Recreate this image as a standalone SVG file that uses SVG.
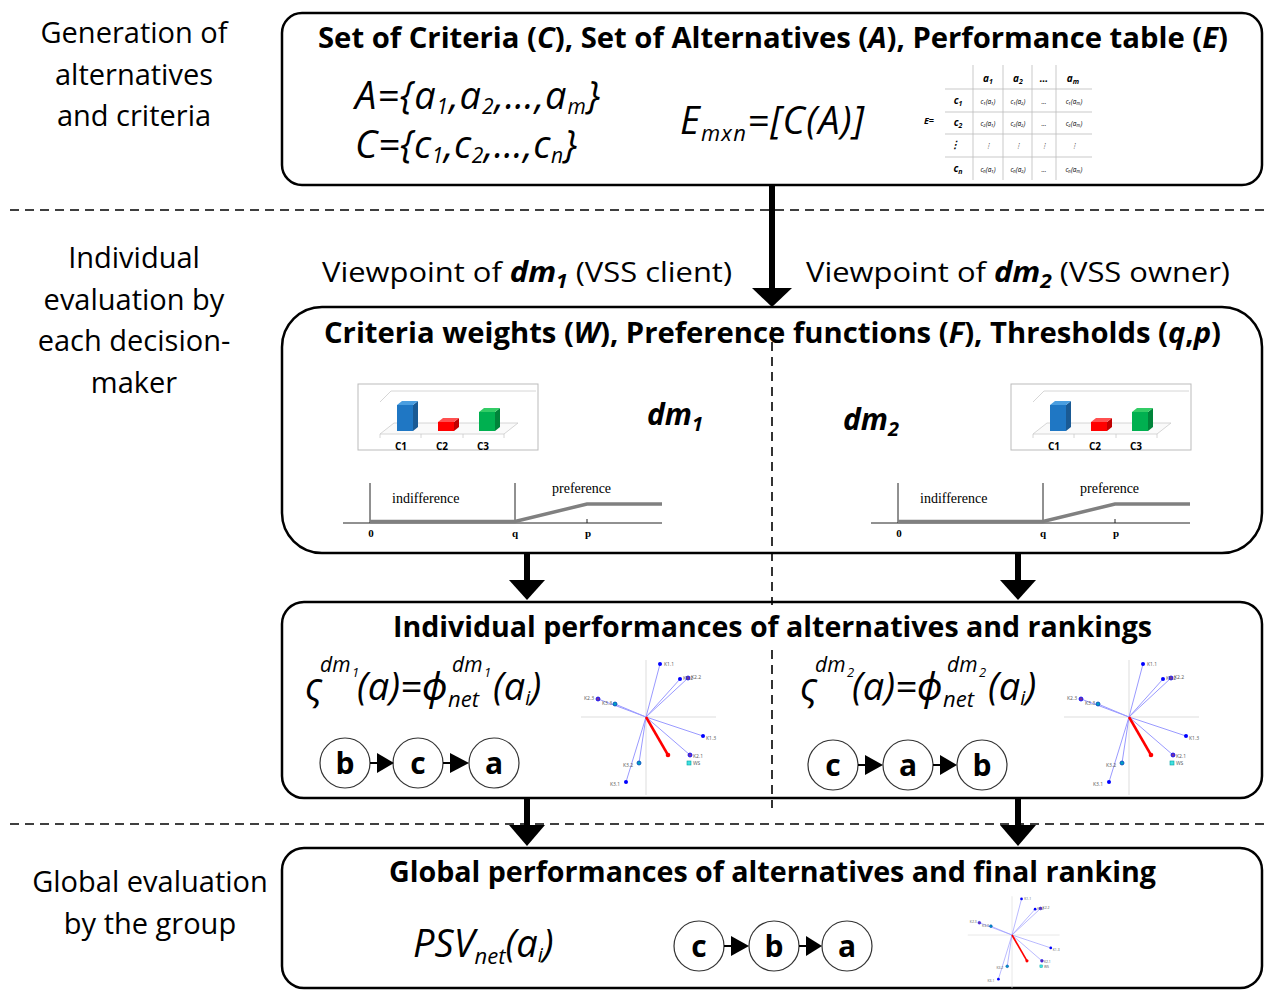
<svg xmlns="http://www.w3.org/2000/svg" width="1264" height="992" viewBox="0 0 1264 992">
  <style>
    text { font-family: "Open Sans", "Noto Sans", "DejaVu Sans", sans-serif; fill: #000; }
    .lbl { font-size: 29px; text-anchor: middle; }
    .title { font-size: 28px; font-weight: bold; }
    .math { font-style: italic; font-size: 38px; }
    .sup { font-style: italic; font-size: 22px; }
    .low { font-style: italic; font-size: 21px; }
    .sup2 { font-style: italic; font-size: 21px; }
    .sub2 { font-style: italic; font-size: 13px; }
    .box { fill: #fff; stroke: #000; stroke-width: 2.5; }
    .dash { stroke: #000; stroke-width: 1.6; stroke-dasharray: 9 6; fill: none; }
    .arrow { fill: #000; }
    .node circle { fill: #fff; stroke: #333; stroke-width: 1.2; }
    .node text { font-size: 30px; font-weight: bold; text-anchor: middle; }
    .serif { font-family: "Liberation Serif", "Times New Roman", serif; }
    .tbl text { font-family: "Open Sans", sans-serif; text-anchor: middle; }
    .grid { stroke: #bbb; stroke-width: 0.8; }
    .sc text { font-size: 5px; fill: #555; }
    .ray { stroke: #9a9aff; stroke-width: 1; }
  </style>
  <defs>
    <!-- small 3D bar chart of criteria weights -->
    <g id="bars">
      <rect x="0" y="0" width="180" height="66" fill="#fff" stroke="#bbb" stroke-width="1"/>
      <polyline points="22,18 33,7 178,7" fill="none" stroke="#ccc" stroke-width="0.8"/>
      <polygon points="22,50 146,50 160,39 36,39" fill="#fafafa" stroke="#ccc" stroke-width="0.8"/>
      <g stroke="#ccc" stroke-width="0.8">
        <line x1="22" y1="50" x2="22" y2="54"/>
        <line x1="63" y1="50" x2="63" y2="54"/>
        <line x1="105" y1="50" x2="105" y2="54"/>
        <line x1="146" y1="50" x2="146" y2="54"/>
      </g>
      <!-- blue -->
      <polygon points="55,21 60,17 60,43 55,47" fill="#1a5a94"/>
      <polygon points="39,21 44,17 60,17 55,21" fill="#4a9ee0"/>
      <rect x="39" y="21" width="16" height="26" fill="#1f77c4"/>
      <!-- red -->
      <polygon points="96,38 101,34 101,43 96,47" fill="#c00000"/>
      <polygon points="80,38 85,34 101,34 96,38" fill="#ff5050"/>
      <rect x="80" y="38" width="16" height="9" fill="#ff0000"/>
      <!-- green -->
      <polygon points="137,28 142,24 142,43 137,47" fill="#00843a"/>
      <polygon points="121,28 126,24 142,24 137,28" fill="#33cc66"/>
      <rect x="121" y="28" width="16" height="19" fill="#00b050"/>
      <g font-size="10" font-weight="bold" text-anchor="middle">
        <text x="43" y="66">C1</text>
        <text x="84" y="66">C2</text>
        <text x="125" y="66">C3</text>
      </g>
    </g>
    <!-- linear preference function with indifference and preference thresholds -->
    <g id="pref">
      <line x1="0" y1="0" x2="319" y2="0" stroke="#222" stroke-width="1"/>
      <line x1="27" y1="-40" x2="27" y2="0" stroke="#222" stroke-width="1"/>
      <line x1="172" y1="-40" x2="172" y2="0" stroke="#222" stroke-width="1"/>
      <line x1="244" y1="-4" x2="244" y2="0" stroke="#222" stroke-width="1"/>
      <polyline points="27,-1.5 172,-1.5 244,-19 319,-19" fill="none" stroke="#808080" stroke-width="3.5"/>
      <g class="serif" font-size="14">
        <text class="serif" x="49" y="-20">indifference</text>
        <text class="serif" x="209" y="-30">preference</text>
      </g>
      <g font-size="11" font-weight="bold" text-anchor="middle">
        <text class="serif" x="28" y="14">0</text>
        <text class="serif" x="172" y="14">q</text>
        <text class="serif" x="245" y="14">p</text>
      </g>
    </g>
    <!-- GAIA-like plane: criteria rays and decision axis -->
    <g id="gaia" class="sc">
      <line x1="-65" y1="0" x2="70" y2="0" stroke="#ddd" stroke-width="1"/>
      <line x1="0" y1="-57" x2="0" y2="78" stroke="#ddd" stroke-width="1"/>
      <line class="ray" x1="0" y1="0" x2="14" y2="-53"/>
      <line class="ray" x1="0" y1="0" x2="34" y2="-38"/>
      <line class="ray" x1="0" y1="0" x2="42" y2="-39"/>
      <line class="ray" x1="0" y1="0" x2="-48" y2="-18"/>
      <line class="ray" x1="0" y1="0" x2="-31" y2="-13"/>
      <line class="ray" x1="0" y1="0" x2="57" y2="19"/>
      <line class="ray" x1="0" y1="0" x2="44" y2="38"/>
      <line class="ray" x1="0" y1="0" x2="-7" y2="46"/>
      <line class="ray" x1="0" y1="0" x2="-20" y2="65"/>
      <line x1="0" y1="0" x2="22" y2="38" stroke="#ff0000" stroke-width="2.5"/>
      <circle cx="22" cy="38" r="2.3" fill="#ff0000"/>
      <circle cx="14" cy="-53" r="2" fill="#0000ff"/>
      <circle cx="34" cy="-38" r="2" fill="#0000ff"/>
      <circle cx="42" cy="-39" r="2" fill="#7030a0" stroke="#0000ff" stroke-width="0.8"/>
      <circle cx="-48" cy="-18" r="2" fill="#7030a0" stroke="#0000ff" stroke-width="0.8"/>
      <circle cx="-31" cy="-13" r="2" fill="#00a0c0" stroke="#0040c0" stroke-width="0.8"/>
      <circle cx="57" cy="19" r="2" fill="#0000ff"/>
      <circle cx="44" cy="38" r="2" fill="#7030a0" stroke="#0000ff" stroke-width="0.8"/>
      <circle cx="-7" cy="46" r="2" fill="#00a0c0" stroke="#0040c0" stroke-width="0.8"/>
      <circle cx="-20" cy="65" r="2" fill="#0000ff"/>
      <rect x="41" y="44" width="4" height="4" fill="#40e0e0" stroke="#00a0a0" stroke-width="0.6"/>
      <text x="18" y="-51">K1.1</text>
      <text x="37" y="-37">K1.2</text>
      <text x="45" y="-38">K2.2</text>
      <text x="-62" y="-17">K2.3</text>
      <text x="-44" y="-12">K3.3</text>
      <text x="60" y="23">K1.3</text>
      <text x="47" y="41">K2.1</text>
      <text x="47" y="48">WS</text>
      <text x="-23" y="50">K3.2</text>
      <text x="-36" y="69">K3.1</text>
    </g>
  </defs>

  <!-- stage labels -->
  <g id="stage-labels">
    <text class="lbl" x="134" y="43">Generation of</text>
    <text class="lbl" x="134" y="85">alternatives</text>
    <text class="lbl" x="134" y="126">and criteria</text>
    <text class="lbl" x="134" y="268">Individual</text>
    <text class="lbl" x="134" y="310">evaluation by</text>
    <text class="lbl" x="134" y="351">each decision-</text>
    <text class="lbl" x="134" y="393">maker</text>
    <text class="lbl" x="150" y="892">Global evaluation</text>
    <text class="lbl" x="150" y="934">by the group</text>
  </g>

  <!-- stage separators -->
  <g id="separators">
    <line class="dash" x1="10" y1="210" x2="1264" y2="210"/>
    <line class="dash" x1="10" y1="824" x2="1264" y2="824"/>
  </g>

  <!-- node: criteria, alternatives, performance table -->
  <g id="node-input">
    <rect class="box" x="282" y="13" width="980" height="172" rx="20"/>
    <text class="title" x="318" y="48" textLength="910" lengthAdjust="spacingAndGlyphs">Set of Criteria (<tspan font-style="italic">C</tspan>), Set of Alternatives (<tspan font-style="italic">A</tspan>), Performance table (<tspan font-style="italic">E</tspan>)</text>
    <text class="math" x="355" y="109" textLength="245" lengthAdjust="spacing">A={a<tspan class="low" dy="5">1</tspan><tspan dy="-5">,a</tspan><tspan class="low" dy="5">2</tspan><tspan dy="-5">,…,a</tspan><tspan class="low" dy="5">m</tspan><tspan dy="-5">}</tspan></text>
    <text class="math" x="355" y="158" textLength="222" lengthAdjust="spacing">C={c<tspan class="low" dy="5">1</tspan><tspan dy="-5">,c</tspan><tspan class="low" dy="5">2</tspan><tspan dy="-5">,…,c</tspan><tspan class="low" dy="5">n</tspan><tspan dy="-5">}</tspan></text>
    <text class="math" x="680" y="134" font-size="39" textLength="184" lengthAdjust="spacing">E<tspan class="sup" dy="7">mxn</tspan><tspan dy="-7">=[C(A)]</tspan></text>
    <!-- performance table -->
    <g class="tbl">
      <g class="grid">
        <line x1="973" y1="65" x2="973" y2="180"/>
        <line x1="1003" y1="65" x2="1003" y2="180"/>
        <line x1="1032" y1="65" x2="1032" y2="180"/>
        <line x1="1056" y1="65" x2="1056" y2="180"/>
        <line x1="945" y1="89" x2="1092" y2="89"/>
        <line x1="945" y1="112" x2="1092" y2="112"/>
        <line x1="945" y1="134" x2="1092" y2="134"/>
        <line x1="945" y1="157" x2="1092" y2="157"/>
      </g>
      <text x="929" y="124" font-size="9" font-weight="bold" font-style="italic">E=</text>
      <g font-size="10" font-weight="bold" font-style="italic">
        <text x="988" y="82">a<tspan font-size="7" dy="2">1</tspan></text>
        <text x="1018" y="82">a<tspan font-size="7" dy="2">2</tspan></text>
        <text x="1044" y="82">…</text>
        <text x="1073" y="82">a<tspan font-size="7" dy="2">m</tspan></text>
        <text x="958" y="104">c<tspan font-size="7" dy="2">1</tspan></text>
        <text x="958" y="126">c<tspan font-size="7" dy="2">2</tspan></text>
        <text x="955" y="148">⋮</text>
        <text x="958" y="172">c<tspan font-size="7" dy="2">n</tspan></text>
      </g>
      <g font-size="6.5" font-style="italic" fill="#333">
        <text x="988" y="104">c₁(a₁)</text>
        <text x="1018" y="104">c₁(a₂)</text>
        <text x="1044" y="104">…</text>
        <text x="1074" y="104">c₁(aₘ)</text>
        <text x="988" y="126">c₂(a₁)</text>
        <text x="1018" y="126">c₂(a₂)</text>
        <text x="1044" y="126">…</text>
        <text x="1074" y="126">c₂(aₘ)</text>
        <text x="988" y="148">⋮</text>
        <text x="1018" y="148">⋮</text>
        <text x="1044" y="148">⋮</text>
        <text x="1074" y="148">⋮</text>
        <text x="988" y="172">cₙ(a₁)</text>
        <text x="1018" y="172">cₙ(a₂)</text>
        <text x="1044" y="172">…</text>
        <text x="1074" y="172">cₙ(aₘ)</text>
      </g>
    </g>
  </g>

  <!-- viewpoints -->
  <g id="viewpoints">
    <text x="322" y="282" font-size="28" textLength="410" lengthAdjust="spacingAndGlyphs">Viewpoint of <tspan font-weight="bold" font-style="italic">dm</tspan><tspan font-weight="bold" font-style="italic" font-size="19" dy="6">1</tspan><tspan dy="-6"> (VSS client)</tspan></text>
    <text x="806" y="282" font-size="28" textLength="424" lengthAdjust="spacingAndGlyphs">Viewpoint of <tspan font-weight="bold" font-style="italic">dm</tspan><tspan font-weight="bold" font-style="italic" font-size="19" dy="6">2</tspan><tspan dy="-6"> (VSS owner)</tspan></text>
  </g>

  <!-- node: individual preference parameters -->
  <g id="node-params">
    <rect class="box" x="282" y="307" width="980" height="246" rx="40"/>
    <text class="title" x="324" y="343" textLength="897" lengthAdjust="spacingAndGlyphs">Criteria weights (<tspan font-style="italic">W</tspan>), Preference functions (<tspan font-style="italic">F</tspan>), Thresholds (<tspan font-style="italic">q</tspan>,<tspan font-style="italic">p</tspan>)</text>
    <use href="#bars" x="358" y="384"/>
    <use href="#bars" x="1011" y="384"/>
    <text x="647" y="425" font-size="30" font-weight="bold" font-style="italic">dm<tspan font-size="20" dy="6">1</tspan></text>
    <text x="843" y="430" font-size="30" font-weight="bold" font-style="italic">dm<tspan font-size="20" dy="6">2</tspan></text>
    <use href="#pref" x="343" y="523"/>
    <use href="#pref" x="871" y="523"/>
  </g>

  <!-- node: individual performances and rankings -->
  <g id="node-individual">
    <rect class="box" x="282" y="602" width="980" height="196" rx="22"/>
    <text class="title" x="393" y="637" textLength="759" lengthAdjust="spacingAndGlyphs">Individual performances of alternatives and rankings</text>
    <!-- dm1 net flow -->
    <text class="math" x="305" y="700">ς</text>
    <text class="sup2" x="320" y="672">dm</text>
    <text class="sub2" x="352" y="677">1</text>
    <text class="math" x="357" y="700">(a)=ϕ</text>
    <text class="sup" x="448" y="707">net</text>
    <text class="sup2" x="452" y="672">dm</text>
    <text class="sub2" x="484" y="677">1</text>
    <text class="math" x="493" y="700">(a<tspan font-size="20" dy="5">i</tspan><tspan dy="-5">)</tspan></text>
    <use href="#gaia" x="646" y="717"/>
    <!-- dm2 net flow -->
    <text class="math" x="800" y="700">ς</text>
    <text class="sup2" x="815" y="672">dm</text>
    <text class="sub2" x="847" y="677">2</text>
    <text class="math" x="852" y="700">(a)=ϕ</text>
    <text class="sup" x="943" y="707">net</text>
    <text class="sup2" x="947" y="672">dm</text>
    <text class="sub2" x="979" y="677">2</text>
    <text class="math" x="988" y="700">(a<tspan font-size="20" dy="5">i</tspan><tspan dy="-5">)</tspan></text>
    <use href="#gaia" x="1129" y="717"/>
  </g>

  <!-- ranking of dm1: b > c > a -->
  <g id="rank-dm1">
    <g class="node"><circle cx="345" cy="763" r="25"/><text x="345" y="774">b</text></g>
    <g class="node"><circle cx="418" cy="763" r="25"/><text x="418" y="774">c</text></g>
    <g class="node"><circle cx="494" cy="763" r="25"/><text x="494" y="774">a</text></g>
  </g>
  <!-- ranking of dm2: c > a > b -->
  <g id="rank-dm2">
    <g class="node"><circle cx="833" cy="765" r="25"/><text x="833" y="776">c</text></g>
    <g class="node"><circle cx="908" cy="765" r="25"/><text x="908" y="776">a</text></g>
    <g class="node"><circle cx="982" cy="765" r="25"/><text x="982" y="776">b</text></g>
  </g>

  <!-- node: global evaluation -->
  <g id="node-global">
    <rect class="box" x="282" y="848" width="980" height="140" rx="22"/>
    <text class="title" x="389" y="882" textLength="767" lengthAdjust="spacingAndGlyphs">Global performances of alternatives and final ranking</text>
    <text class="math" x="413" y="957">PSV<tspan class="sup" dy="7">net</tspan><tspan dy="-7">(a</tspan><tspan font-size="20" dy="5">i</tspan><tspan dy="-5">)</tspan></text>
    <use href="#gaia" transform="translate(1012 935) scale(0.68)"/>
  </g>
  <!-- group ranking: c > b > a -->
  <g id="rank-group">
    <g class="node"><circle cx="699" cy="946" r="25"/><text x="699" y="957">c</text></g>
    <g class="node"><circle cx="774" cy="946" r="25"/><text x="774" y="957">b</text></g>
    <g class="node"><circle cx="847" cy="946" r="25"/><text x="847" y="957">a</text></g>
  </g>

  <!-- connectors -->
  <g id="connectors">
    <line class="dash" x1="772" y1="327" x2="772" y2="605" stroke-dasharray="14 8"/>
    <line class="dash" x1="772" y1="650" x2="772" y2="808" stroke-dasharray="14 8"/>
    <!-- main flow arrows -->
    <rect class="arrow" x="769" y="185" width="6" height="105"/>
    <polygon class="arrow" points="752,288 792,288 772,307"/>
    <rect class="arrow" x="524" y="553" width="6" height="29"/>
    <polygon class="arrow" points="509,580 545,580 527,600"/>
    <rect class="arrow" x="1015" y="553" width="6" height="29"/>
    <polygon class="arrow" points="1000,580 1036,580 1018,600"/>
    <rect class="arrow" x="524" y="798" width="6" height="28"/>
    <polygon class="arrow" points="509,825 545,825 527,846"/>
    <rect class="arrow" x="1015" y="798" width="6" height="28"/>
    <polygon class="arrow" points="1000,825 1036,825 1018,846"/>
    <!-- ranking arrows -->
    <g stroke="#000" stroke-width="2">
      <line x1="370" y1="763" x2="378" y2="763"/>
      <line x1="443" y1="763" x2="451" y2="763"/>
      <line x1="858" y1="765" x2="866" y2="765"/>
      <line x1="933" y1="765" x2="941" y2="765"/>
      <line x1="724" y1="946" x2="732" y2="946"/>
      <line x1="799" y1="946" x2="807" y2="946"/>
    </g>
    <polygon class="arrow" points="377,753 377,773 394,763"/>
    <polygon class="arrow" points="450,753 450,773 469,763"/>
    <polygon class="arrow" points="865,755 865,775 883,765"/>
    <polygon class="arrow" points="940,755 940,775 957,765"/>
    <polygon class="arrow" points="731,936 731,956 749,946"/>
    <polygon class="arrow" points="806,936 806,956 822,946"/>
  </g>
</svg>
